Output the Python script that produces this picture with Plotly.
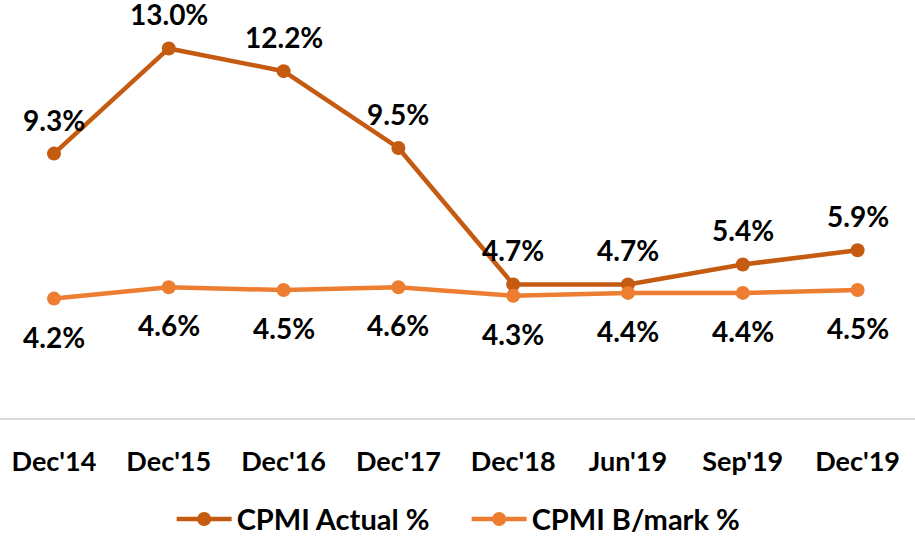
import plotly.graph_objects as go

categories = ["Dec'14", "Dec'15", "Dec'16", "Dec'17", "Dec'18", "Jun'19", "Sep'19", "Dec'19"]
actual = [9.3, 13.0, 12.2, 9.5, 4.7, 4.7, 5.4, 5.9]
benchmark = [4.2, 4.6, 4.5, 4.6, 4.3, 4.4, 4.4, 4.5]

c_act = "#C55A11"
c_bm = "#ED7D31"
font_family = "Lato, 'Open Sans', sans-serif"

fig = go.Figure()
fig.add_trace(go.Scatter(x=categories, y=actual, mode="lines+markers", name="CPMI Actual %",
                         line=dict(color=c_act, width=4.5), marker=dict(size=14, color=c_act)))
fig.add_trace(go.Scatter(x=categories, y=benchmark, mode="lines+markers", name="CPMI B/mark %",
                         line=dict(color=c_bm, width=4.5), marker=dict(size=14, color=c_bm)))

for c, v in zip(categories, actual):
    fig.add_annotation(x=c, y=v, text=f"{v:.1f}%", showarrow=False, yshift=34,
                       font=dict(size=28, color="black", family=font_family, weight="bold"))
for c, v in zip(categories, benchmark):
    fig.add_annotation(x=c, y=v, text=f"{v:.1f}%", showarrow=False, yshift=-38,
                       font=dict(size=28, color="black", family=font_family, weight="bold"))

fig.update_layout(
    width=915, height=537,
    margin=dict(l=0, r=0, t=20, b=119, autoexpand=False),
    plot_bgcolor="white", paper_bgcolor="white",
    font=dict(family=font_family, size=27, color="black", weight="bold"),
    showlegend=True,
    legend=dict(orientation="h", x=0.51, xanchor="center", y=-0.254, yanchor="middle",
                entrywidth=225, entrywidthmode="pixels", itemwidth=55,
                font=dict(size=29, color="black", weight="bold")),
    xaxis=dict(range=[-0.47, 7.5], showgrid=False, showline=True, linecolor="#D9D9D9", linewidth=2,
               automargin=False, ticks="", ticklabelstandoff=19,
               tickfont=dict(size=27, color="black", weight="bold")),
    yaxis=dict(range=[0, 14], showgrid=False, zeroline=False, showticklabels=False, showline=False,
               automargin=False),
)

fig.write_html("out.html", config={"displayModeBar": False},
               post_script="document.body.style.margin='0';document.body.style.overflow='hidden';")
